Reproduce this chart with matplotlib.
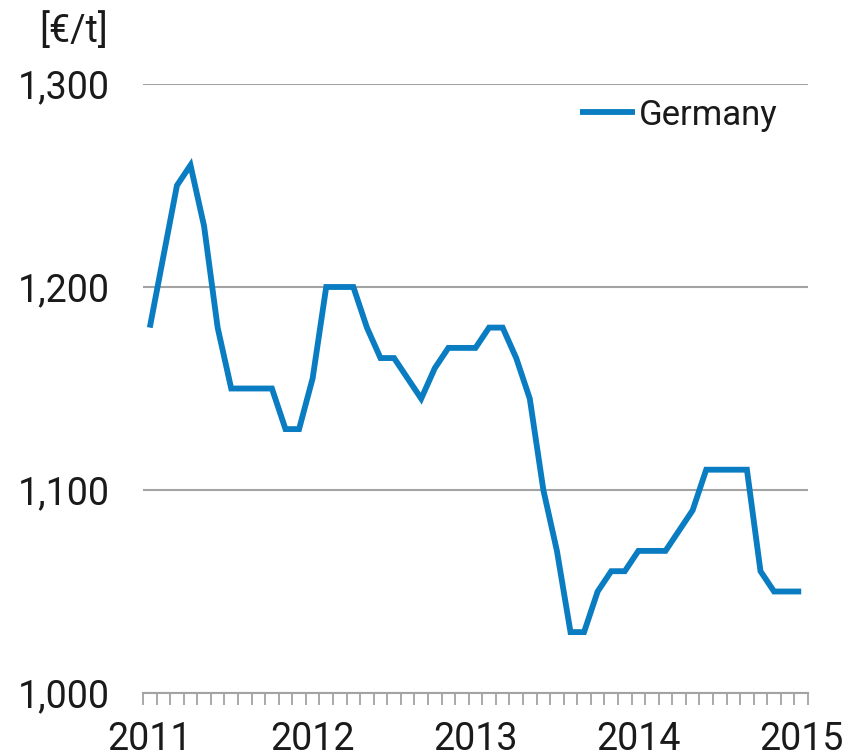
import numpy as np
import matplotlib
matplotlib.use("Agg")
import matplotlib.pyplot as plt

plt.rcParams['font.family'] = ['Roboto', 'DejaVu Sans']

# monthly prices, Jan 2011 .. Jan 2015
preis = [1180, 1215, 1250, 1260, 1230, 1180, 1150, 1150, 1150, 1150, 1130, 1130,
         1155, 1200, 1200, 1200, 1180, 1165, 1165, 1155, 1145, 1160, 1170, 1170,
         1170, 1180, 1180, 1165, 1145, 1100, 1070, 1030, 1030, 1050, 1060, 1060,
         1070, 1070, 1070, 1080, 1090, 1110, 1110, 1110, 1110, 1060, 1050, 1050,
         1050]
jahre = ['2011', '2012', '2013', '2014', '2015']
y_ticks = [1000, 1100, 1200, 1300]
y_labels = ['1,000', '1,100', '1,200', '1,300']
serie = 'Germany'

blau = '#0a7dc2'
grau = '#a3a3a3'

fig = plt.figure(figsize=(8.52, 7.55), dpi=100)
W, H = 852, 755
ax = fig.add_axes([143 / W, 1 - 693 / H, 665 / W, 609 / H])

x = np.arange(len(preis))
ax.plot(x, preis, color=blau, lw=4.2, solid_joinstyle='miter', solid_capstyle='butt', label=serie)

ax.set_xlim(-0.5, len(preis) - 0.5)
ax.set_ylim(1000, 1300)

# gridlines
ax.set_yticks(y_ticks)
ax.set_yticklabels(y_labels, fontsize=27, color='#1a1a1a')
ax.yaxis.grid(True, color=grau, lw=1.5)
ax.set_axisbelow(True)
ax.tick_params(axis='y', length=0, pad=24)

# x axis: marks between months, year labels under January points
ax.set_xticks(np.arange(-0.5, len(preis), 1.0), minor=True)
ax.set_xticks([0, 12, 24, 36, 48])
ax.set_xticklabels(jahre, fontsize=27, color='#1a1a1a')
ax.tick_params(axis='x', which='major', length=0, pad=20)
ax.tick_params(axis='x', which='minor', length=8.5, width=1.3, color=grau, direction='out')

for s in ['left', 'right', 'top']:
    ax.spines[s].set_visible(False)
ax.spines['bottom'].set_color(grau)
ax.spines['bottom'].set_linewidth(1.5)

fig.text(108 / W, 1 - 31 / H, '[€/t]', fontsize=27, color='#1a1a1a', ha='right', va='center')

ax.legend(loc='center right', bbox_to_anchor=(778 / W, 1 - 115 / H), bbox_transform=fig.transFigure,
          frameon=False, fontsize=25, handlelength=1.6, handletextpad=0.12,
          borderpad=0, borderaxespad=0, labelcolor='#1a1a1a')

fig.savefig('out.png', dpi=100)
